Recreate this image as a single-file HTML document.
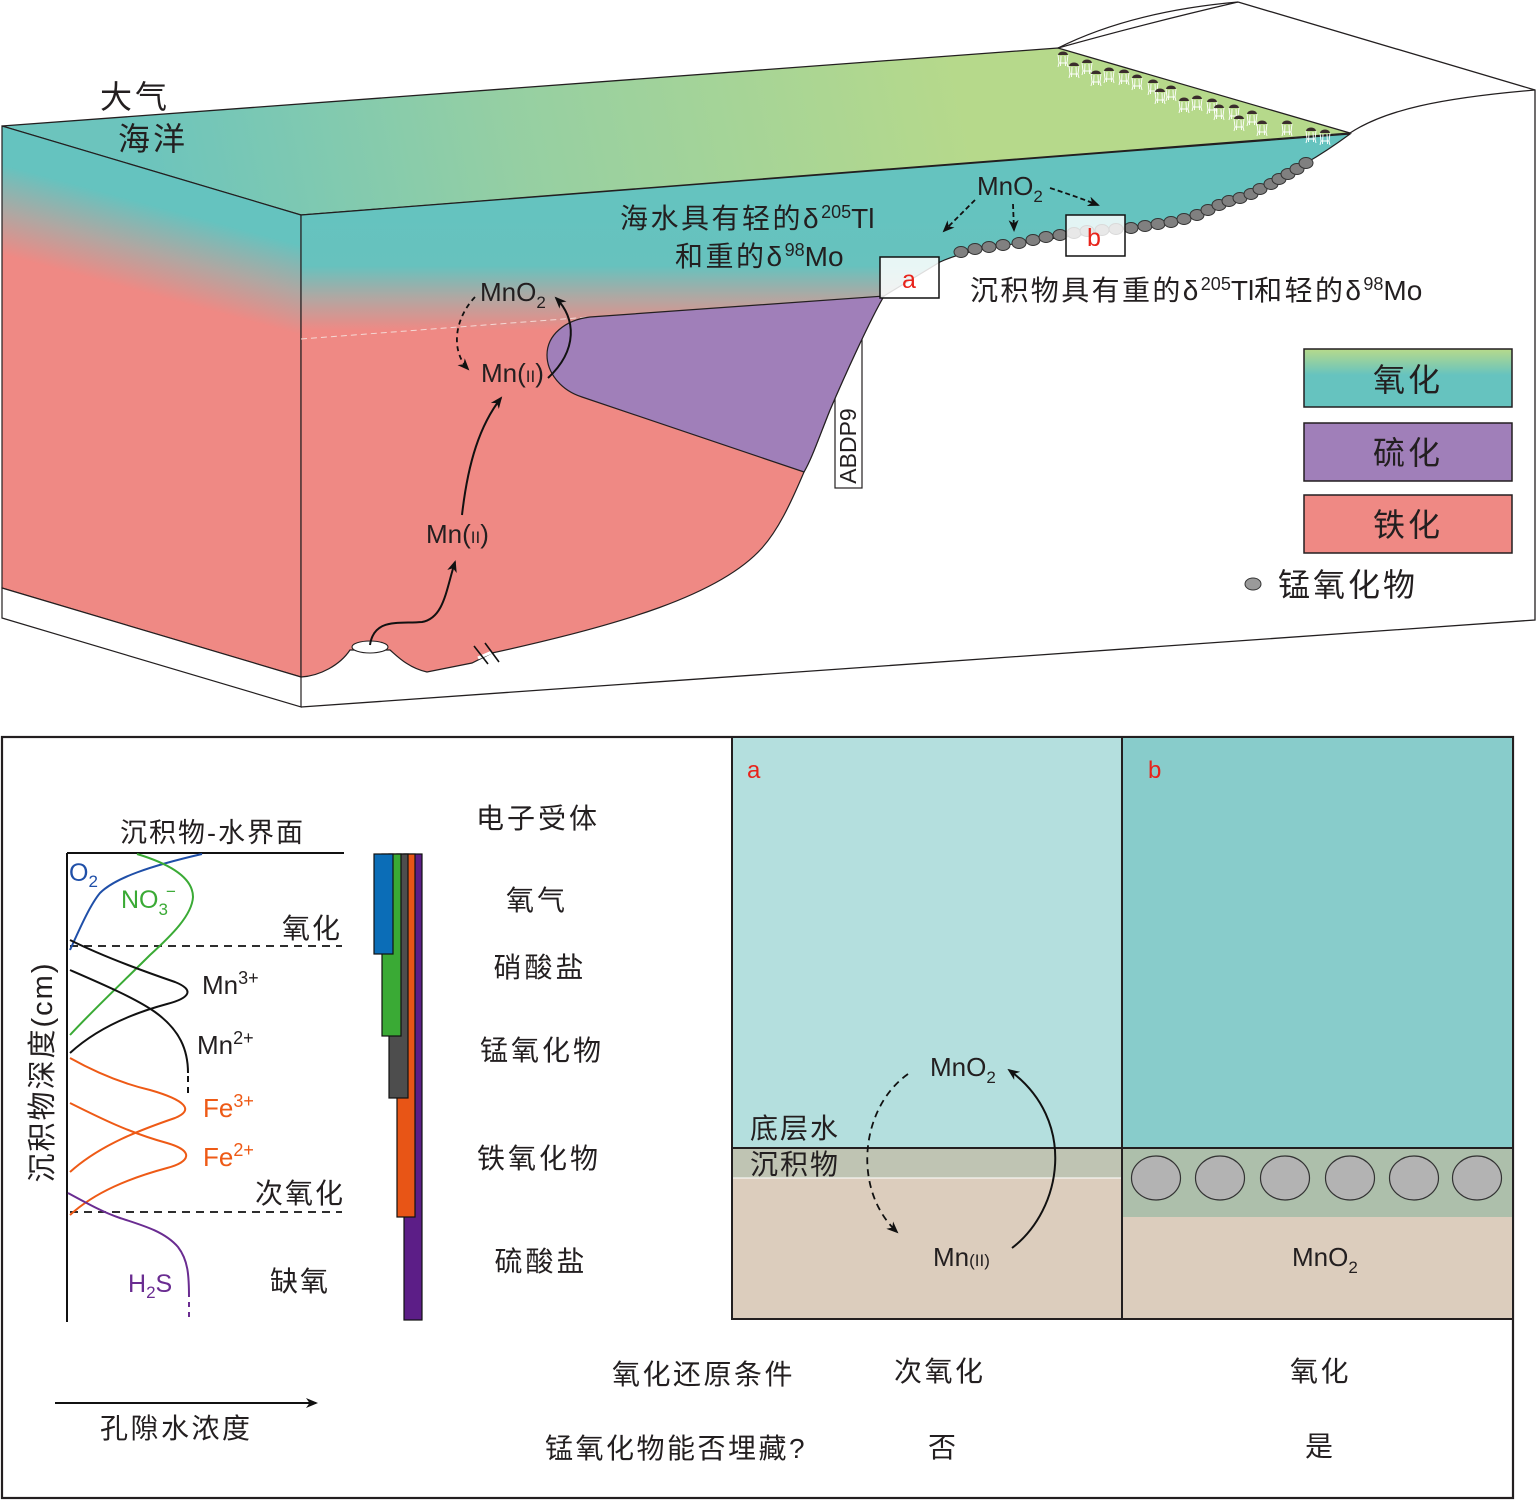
<!DOCTYPE html>
<html>
<head>
<meta charset="utf-8">
<style>
html,body{margin:0;padding:0;background:#fff;}
svg{display:block;}
text{font-family:"Liberation Sans","Noto Sans CJK SC",sans-serif;fill:#231f20;}
</style>
</head>
<body>
<svg width="1537" height="1500" viewBox="0 0 1537 1500" xmlns="http://www.w3.org/2000/svg">
<defs>
  <linearGradient id="gTop" gradientUnits="userSpaceOnUse" x1="150" y1="210" x2="950" y2="40">
    <stop offset="0" stop-color="#6cc4bd"/>
    <stop offset="0.45" stop-color="#95cfa3"/>
    <stop offset="1" stop-color="#b6d98b"/>
  </linearGradient>
  <linearGradient id="gFront" gradientUnits="userSpaceOnUse" x1="0" y1="215" x2="0" y2="677">
    <stop offset="0" stop-color="#65c3bf"/>
    <stop offset="0.11" stop-color="#67c2be"/>
    <stop offset="0.18" stop-color="#b2a7a2"/>
    <stop offset="0.25" stop-color="#ef8984"/>
    <stop offset="1" stop-color="#ef8984"/>
  </linearGradient>
  <linearGradient id="gLeft" gradientUnits="userSpaceOnUse" x1="60" y1="150" x2="6" y2="350">
    <stop offset="0" stop-color="#65c3bf"/>
    <stop offset="0.14" stop-color="#65c3bf"/>
    <stop offset="0.36" stop-color="#b0a7a2"/>
    <stop offset="0.56" stop-color="#ef8984"/>
    <stop offset="1" stop-color="#ef8984"/>
  </linearGradient>
  <linearGradient id="gLeg" x1="0" y1="0" x2="0" y2="1">
    <stop offset="0" stop-color="#b7da8b"/>
    <stop offset="0.45" stop-color="#66c3bf"/>
    <stop offset="1" stop-color="#66c3bf"/>
  </linearGradient>
  <marker id="ah" viewBox="0 0 12 10" refX="10" refY="5" markerWidth="12" markerHeight="10" markerUnits="userSpaceOnUse" orient="auto">
    <path d="M0,0 L12,5 L0,10 L3.5,5 Z" fill="#111"/>
  </marker>
  <g id="jf">
    <path d="M-5,0 A5,3.5 0 0 1 5,0 Z" fill="#3a2c2c"/>
    <path d="M-5,0 L-4,8 L4,8 L5,0 M-2,1 L-2.5,11 M2,1 L2.5,11 M-4,8 L-5,12 M4,8 L5,12" stroke="#ffffff" stroke-width="0.9" fill="none"/>
  </g>
</defs>

<!-- ============ TOP BLOCK ============ -->
<path d="M2,126 L1058,48 L1350,133 L301,215 Z" fill="url(#gTop)" stroke="#231f20" stroke-width="1.3"/>
<path d="M2,126 L301,215 L301,677 L2,588 Z" fill="url(#gLeft)" stroke="#231f20" stroke-width="1.2"/>
<path d="M2,588 L301,677 L301,707 L2,618 Z" fill="#fff" stroke="#231f20" stroke-width="1.2"/>

<path d="M1058,48 C1110,22 1170,8 1238,2" fill="none" stroke="#231f20" stroke-width="1.2"/>
<path d="M1058,48 C1115,32 1178,16 1238,2" fill="none" stroke="#231f20" stroke-width="1.2"/>
<path d="M1238,2 L1535,90 L1535,620 L301,707" fill="none" stroke="#231f20" stroke-width="1.3"/>
<path d="M1350,133 C1385,110 1440,98 1535,90" fill="none" stroke="#231f20" stroke-width="1.2"/>

<rect x="835" y="330" width="27" height="158" fill="#fff" stroke="#231f20" stroke-width="1.2"/>
<text x="0" y="0" font-size="23" transform="translate(856,446) rotate(-90)" text-anchor="middle">ABDP9</text>

<path d="M301,215 L1350,134 C1335,145 1320,155 1306,163 C1290,173 1270,186 1250,196 C1225,208 1200,216 1170,222 C1120,231 1050,238 1000,246 C975,250 955,255 940,262 L884,296 C870,320 845,375 830,410 C818,440 812,458 804,472 C790,505 778,530 762,548 C720,595 620,625 492,653 L472,663 L427,672 C408,668 396,655 390,650 L350,650 C340,665 320,676 301,677 Z" fill="url(#gFront)" stroke="#231f20" stroke-width="1.2"/>
<path d="M478,658 L492,652" stroke="#fff" stroke-width="3"/>
<path d="M474,646 L488,664 M485,643 L499,662" stroke="#111" stroke-width="1.6"/>
<path d="M301,339 L590,317" stroke="#f4d8d4" stroke-width="1" stroke-dasharray="6,4" fill="none"/>
<path d="M590,317 L884,296 C870,320 845,375 830,410 C818,440 812,458 804,472 L582,397 C560,390 547,372 547,355 C547,335 565,320 590,317 Z" fill="#a07fb9" stroke="#231f20" stroke-width="1.2"/>
<ellipse cx="370" cy="647" rx="18" ry="6" fill="#fff" stroke="#231f20" stroke-width="1.1"/>

<g fill="#808080" stroke="#333" stroke-width="1">
  <ellipse cx="961" cy="252" rx="7" ry="5.5"/>
  <ellipse cx="975" cy="249" rx="7" ry="5.5"/>
  <ellipse cx="989" cy="247" rx="7" ry="5.5"/>
  <ellipse cx="1003" cy="245" rx="7" ry="5.5"/>
  <ellipse cx="1019" cy="243" rx="7" ry="5.5"/>
  <ellipse cx="1033" cy="240" rx="7" ry="5.5"/>
  <ellipse cx="1046" cy="237" rx="7" ry="5.5"/>
  <ellipse cx="1060" cy="235" rx="7" ry="5.5"/>
  <ellipse cx="1074" cy="233" rx="7" ry="5.5"/>
  <ellipse cx="1087" cy="231" rx="7" ry="5.5"/>
  <ellipse cx="1102" cy="230" rx="7" ry="5.5"/>
  <ellipse cx="1116" cy="229" rx="7" ry="5.5"/>
  <ellipse cx="1131" cy="228" rx="7" ry="5.5"/>
  <ellipse cx="1145" cy="226" rx="7" ry="5.5"/>
  <ellipse cx="1158" cy="224" rx="7" ry="5.5"/>
  <ellipse cx="1171" cy="222" rx="7" ry="5.5"/>
  <ellipse cx="1184" cy="219" rx="7" ry="5.5"/>
  <ellipse cx="1197" cy="215" rx="7" ry="5.5"/>
  <ellipse cx="1208" cy="210" rx="7" ry="5.5"/>
  <ellipse cx="1219" cy="205" rx="7" ry="5.5"/>
  <ellipse cx="1229" cy="201" rx="7" ry="5.5"/>
  <ellipse cx="1240" cy="198" rx="7" ry="5.5"/>
  <ellipse cx="1251" cy="194" rx="7" ry="5.5"/>
  <ellipse cx="1260" cy="189" rx="7" ry="5.5"/>
  <ellipse cx="1271" cy="184" rx="7" ry="5.5"/>
  <ellipse cx="1279" cy="179" rx="7" ry="5.5"/>
  <ellipse cx="1288" cy="174" rx="7" ry="5.5"/>
  <ellipse cx="1297" cy="169" rx="7" ry="5.5"/>
  <ellipse cx="1306" cy="163" rx="7" ry="5.5"/>
</g>

<rect x="880" y="257" width="59" height="41" fill="#ffffff" fill-opacity="0.85" stroke="#111" stroke-width="1.5"/>
<text x="902" y="288" font-size="25" style="fill:#e8231b">a</text>
<rect x="1066" y="215" width="59" height="41" fill="#ffffff" fill-opacity="0.82" stroke="#111" stroke-width="1.5"/>
<text x="1087" y="246" font-size="25" style="fill:#e8231b">b</text>

<g>
  <use href="#jf" x="1063" y="55"/><use href="#jf" x="1074" y="66"/><use href="#jf" x="1087" y="63"/>
  <use href="#jf" x="1096" y="74"/><use href="#jf" x="1109" y="71"/><use href="#jf" x="1124" y="73"/>
  <use href="#jf" x="1137" y="78"/><use href="#jf" x="1153" y="83"/><use href="#jf" x="1160" y="92"/>
  <use href="#jf" x="1171" y="89"/><use href="#jf" x="1184" y="101"/><use href="#jf" x="1197" y="99"/>
  <use href="#jf" x="1212" y="102"/><use href="#jf" x="1219" y="108"/><use href="#jf" x="1234" y="108"/>
  <use href="#jf" x="1239" y="119"/><use href="#jf" x="1252" y="114"/><use href="#jf" x="1262" y="124"/>
  <use href="#jf" x="1287" y="124"/><use href="#jf" x="1311" y="131"/><use href="#jf" x="1325" y="133"/>
</g>

<text x="100" y="108" font-size="32" letter-spacing="3">大气</text>
<text x="118" y="150" font-size="32" letter-spacing="3">海洋</text>
<text x="620" y="228" font-size="28" letter-spacing="2.5">海水具有轻的δ<tspan dy="-10" font-size="18" letter-spacing="0">205</tspan><tspan dy="10" letter-spacing="0">Tl</tspan></text>
<text x="675" y="266" font-size="28" letter-spacing="2.5">和重的δ<tspan dy="-10" font-size="18" letter-spacing="0">98</tspan><tspan dy="10" letter-spacing="0">Mo</tspan></text>
<text x="970" y="300" font-size="28" letter-spacing="2.4">沉积物具有重的δ<tspan dy="-10" font-size="18" letter-spacing="0">205</tspan><tspan dy="10" letter-spacing="0">Tl</tspan>和轻的δ<tspan dy="-10" font-size="18" letter-spacing="0">98</tspan><tspan dy="10" letter-spacing="0">Mo</tspan></text>
<text x="977" y="195" font-size="26">MnO<tspan dy="7" font-size="17">2</tspan></text>

<g fill="none" stroke="#111" stroke-width="1.8" stroke-dasharray="5,3">
  <path d="M975,200 L944,231" marker-end="url(#ah)"/>
  <path d="M1013,204 L1014,230" marker-end="url(#ah)"/>
  <path d="M1050,188 Q1075,196 1098,205" marker-end="url(#ah)"/>
</g>

<text x="480" y="301" font-size="26">MnO<tspan dy="7" font-size="17">2</tspan></text>
<text x="481" y="382" font-size="26">Mn(<tspan font-size="17">II</tspan>)</text>
<text x="426" y="543" font-size="26">Mn(<tspan font-size="17">II</tspan>)</text>
<path d="M475,297 C455,318 450,350 468,369" fill="none" stroke="#111" stroke-width="1.8" stroke-dasharray="5,4" marker-end="url(#ah)"/>
<path d="M548,378 C578,350 576,318 556,298" fill="none" stroke="#111" stroke-width="2" marker-end="url(#ah)"/>
<path d="M462,515 C468,462 480,425 501,398" fill="none" stroke="#111" stroke-width="2" marker-end="url(#ah)"/>
<path d="M370,645 C374,618 398,624 422,622 C444,618 446,590 455,562" fill="none" stroke="#111" stroke-width="2" marker-end="url(#ah)"/>

<rect x="1304" y="349" width="208" height="58" fill="url(#gLeg)" stroke="#231f20" stroke-width="1.5"/>
<rect x="1304" y="423" width="208" height="58" fill="#a07fb9" stroke="#231f20" stroke-width="1.5"/>
<rect x="1304" y="495" width="208" height="58" fill="#ef8984" stroke="#231f20" stroke-width="1.5"/>
<text x="1408" y="391" font-size="32" text-anchor="middle" letter-spacing="3">氧化</text>
<text x="1408" y="464" font-size="32" text-anchor="middle" letter-spacing="3">硫化</text>
<text x="1408" y="536" font-size="32" text-anchor="middle" letter-spacing="3">铁化</text>
<ellipse cx="1253" cy="584" rx="8" ry="6" fill="#9a9a9a" stroke="#333" stroke-width="1"/>
<text x="1278" y="596" font-size="32" letter-spacing="3">锰氧化物</text>

<!-- ============ BOTTOM PANEL ============ -->
<rect x="2" y="737" width="1511" height="761" fill="#fff" stroke="#231f20" stroke-width="2.2"/>
<rect x="732" y="737" width="390" height="411" fill="#b4dfde"/>
<rect x="732" y="1148" width="390" height="30" fill="#bfc4b3"/>
<rect x="732" y="1178" width="390" height="141" fill="#dccdbd"/>
<line x1="732" y1="1178" x2="1122" y2="1178" stroke="#fff" stroke-width="1"/>
<rect x="1122" y="737" width="391" height="411" fill="#88cccb"/>
<rect x="1122" y="1148" width="391" height="69" fill="#adbfab"/>
<rect x="1122" y="1217" width="391" height="102" fill="#dccdbd"/>
<g fill="none" stroke="#231f20" stroke-width="2">
  <line x1="732" y1="1148" x2="1513" y2="1148"/>
  <rect x="732" y="737" width="390" height="582"/>
  <rect x="1122" y="737" width="391" height="582"/>
</g>
<g fill="#b3b3b3" stroke="#333" stroke-width="1.2">
  <ellipse cx="1156" cy="1178" rx="24.5" ry="22"/>
  <ellipse cx="1220" cy="1178" rx="24.5" ry="22"/>
  <ellipse cx="1285" cy="1178" rx="24.5" ry="22"/>
  <ellipse cx="1350" cy="1178" rx="24.5" ry="22"/>
  <ellipse cx="1414" cy="1178" rx="24.5" ry="22"/>
  <ellipse cx="1477" cy="1178" rx="24.5" ry="22"/>
</g>
<text x="747" y="778" font-size="24" style="fill:#e8231b">a</text>
<text x="1148" y="778" font-size="24" style="fill:#e8231b">b</text>
<text x="750" y="1138" font-size="28" letter-spacing="2">底层水</text>
<text x="750" y="1174" font-size="28" letter-spacing="2">沉积物</text>
<text x="930" y="1076" font-size="26">MnO<tspan dy="7" font-size="17">2</tspan></text>
<text x="933" y="1266" font-size="26">Mn<tspan font-size="17">(II)</tspan></text>
<text x="1292" y="1266" font-size="26">MnO<tspan dy="7" font-size="17">2</tspan></text>
<path d="M908,1074 C860,1108 852,1190 897,1232" fill="none" stroke="#111" stroke-width="1.8" stroke-dasharray="7,5" marker-end="url(#ah)"/>
<path d="M1012,1248 C1062,1210 1078,1120 1009,1070" fill="none" stroke="#111" stroke-width="2" marker-end="url(#ah)"/>

<text x="612" y="1384" font-size="28" letter-spacing="2.5">氧化还原条件</text>
<text x="894" y="1381" font-size="28" letter-spacing="2.5">次氧化</text>
<text x="1290" y="1381" font-size="28" letter-spacing="2.5">氧化</text>
<text x="545" y="1458" font-size="28" letter-spacing="2.5">锰氧化物能否埋藏?</text>
<text x="928" y="1457" font-size="28">否</text>
<text x="1305" y="1456" font-size="28">是</text>

<!-- left graph -->
<text x="120" y="842" font-size="27" letter-spacing="2">沉积物-水界面</text>
<line x1="67" y1="853" x2="344" y2="853" stroke="#111" stroke-width="2"/>
<line x1="67" y1="853" x2="67" y2="1322" stroke="#111" stroke-width="2"/>
<line x1="70" y1="946" x2="342" y2="946" stroke="#111" stroke-width="1.8" stroke-dasharray="8,6"/>
<line x1="70" y1="1212" x2="342" y2="1212" stroke="#111" stroke-width="1.8" stroke-dasharray="8,6"/>
<text x="282" y="938" font-size="28" letter-spacing="2">氧化</text>
<text x="255" y="1203" font-size="28" letter-spacing="2">次氧化</text>
<text x="270" y="1291" font-size="28" letter-spacing="2">缺氧</text>
<text x="0" y="0" font-size="29" letter-spacing="2" text-anchor="middle" transform="translate(52,1072) rotate(-90)">沉积物深度(cm)</text>

<path d="M202,854 C150,866 115,878 100,893 C90,905 80,928 70,950" fill="none" stroke="#1f4fa8" stroke-width="2"/>
<path d="M137,854 C170,864 193,878 193,897 C192,915 172,935 150,955 C125,980 95,1008 70,1035" fill="none" stroke="#3aaa35" stroke-width="2"/>
<path d="M70,940 C100,955 140,970 175,982 C195,990 190,998 167,1004 C130,1014 95,1030 70,1053" fill="none" stroke="#111" stroke-width="2"/>
<path d="M70,970 C100,983 135,998 155,1012 C180,1030 188,1050 188,1073" fill="none" stroke="#111" stroke-width="2"/>
<path d="M188,1076 L188,1098" fill="none" stroke="#111" stroke-width="2" stroke-dasharray="6,5"/>
<path d="M70,1058 C95,1072 120,1083 150,1090 C185,1100 195,1110 175,1118 C140,1130 100,1145 70,1172" fill="none" stroke="#ee5a16" stroke-width="2"/>
<path d="M70,1103 C100,1118 130,1133 167,1143 C195,1151 190,1162 167,1168 C130,1178 95,1192 70,1215" fill="none" stroke="#ee5a16" stroke-width="2"/>
<path d="M68,1193 C90,1205 105,1213 120,1218 C145,1226 165,1232 178,1247 C188,1260 189,1275 189,1297" fill="none" stroke="#6a2c91" stroke-width="2"/>
<path d="M189,1302 L189,1321" fill="none" stroke="#6a2c91" stroke-width="2" stroke-dasharray="5,5"/>

<text x="69" y="881" font-size="25" style="fill:#1f4fa8">O<tspan dy="6" font-size="17">2</tspan></text>
<text x="121" y="908" font-size="25" style="fill:#3aaa35">NO<tspan dy="7" font-size="17">3</tspan><tspan dy="-18" dx="-2" font-size="17">−</tspan></text>
<text x="202" y="994" font-size="26">Mn<tspan dy="-10" font-size="18">3+</tspan></text>
<text x="197" y="1054" font-size="26">Mn<tspan dy="-10" font-size="18">2+</tspan></text>
<text x="203" y="1117" font-size="26" style="fill:#ee5a16">Fe<tspan dy="-10" font-size="18">3+</tspan></text>
<text x="203" y="1166" font-size="26" style="fill:#ee5a16">Fe<tspan dy="-10" font-size="18">2+</tspan></text>
<text x="128" y="1292" font-size="25" style="fill:#6a2c91">H<tspan dy="6" font-size="17">2</tspan><tspan dy="-6">S</tspan></text>

<g stroke="#111" stroke-width="1.2">
  <rect x="404" y="854" width="18" height="466" fill="#5c1e87"/>
  <rect x="397" y="854" width="18" height="363" fill="#e85516"/>
  <rect x="389" y="854" width="19" height="244" fill="#4d4d4d"/>
  <rect x="382" y="854" width="19" height="182" fill="#3aaa35"/>
  <rect x="374" y="854" width="19" height="100" fill="#0b6db7"/>
</g>

<text x="538" y="828" font-size="28" text-anchor="middle" letter-spacing="3">电子受体</text>
<text x="537" y="910" font-size="28" text-anchor="middle" letter-spacing="3">氧气</text>
<text x="540" y="977" font-size="28" text-anchor="middle" letter-spacing="3">硝酸盐</text>
<text x="542" y="1060" font-size="28" text-anchor="middle" letter-spacing="3">锰氧化物</text>
<text x="539" y="1168" font-size="28" text-anchor="middle" letter-spacing="3">铁氧化物</text>
<text x="541" y="1271" font-size="28" text-anchor="middle" letter-spacing="3">硫酸盐</text>

<line x1="55" y1="1403" x2="316" y2="1403" stroke="#111" stroke-width="2" marker-end="url(#ah)"/>
<text x="100" y="1438" font-size="28" letter-spacing="2.5">孔隙水浓度</text>
</svg>
</body>
</html>
